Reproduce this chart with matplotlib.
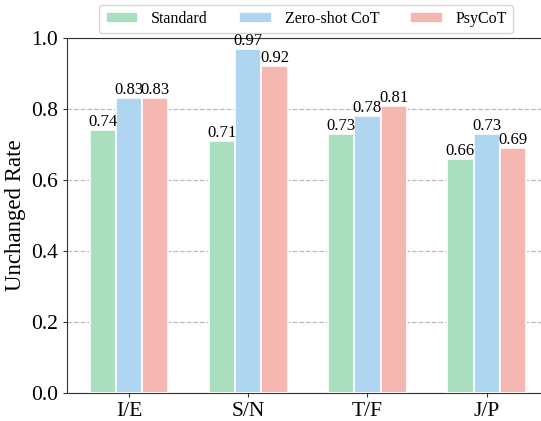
import numpy as np
import matplotlib.pyplot as plt

plt.rcParams['font.family'] = ['Liberation Serif', 'DejaVu Serif']

dims = ["I/E", "S/N", "T/F", "J/P"]
methods = ["Standard", "Zero-shot CoT", "PsyCoT"]
standard = [0.74, 0.71, 0.73, 0.66]
zeroshot = [0.83, 0.97, 0.78, 0.73]
psycot = [0.83, 0.92, 0.81, 0.69]
colors = ["#a9dfbf", "#aed6f1", "#f5b7b1"]

fig = plt.figure(figsize=[5.41, 4.21], dpi=100)
ax = fig.add_axes([0.124, 0.0665, 0.91, 0.843])

x = np.arange(len(dims))
w = 0.22
for k, (vals, name) in enumerate(zip([standard, zeroshot, psycot], methods)):
    pos = x + (k - 1) * w
    bars = ax.bar(pos, vals, width=w, color=colors[k], edgecolor="white",
                  linewidth=1.2, label=name, zorder=3)
    for b, v in zip(bars, vals):
        ax.text(b.get_x() + b.get_width() / 2, v, "%.2f" % v,
                ha="center", va="bottom", fontsize=12, zorder=4)

ax.set_xlim(-0.52, 3.61)
ax.set_ylim(0, 1.0)
ax.set_xticks(x)
ax.set_xticklabels(dims, fontsize=15.5)
ax.set_yticks(np.arange(0, 1.01, 0.2))
ax.set_yticklabels(["%.1f" % t for t in np.arange(0, 1.01, 0.2)], fontsize=15.5)
ax.set_ylabel("Unchanged Rate", fontsize=16.5)
ax.yaxis.grid(True, linestyle="--", color="#bbbbbb", linewidth=0.9, zorder=0)
for s in ax.spines.values():
    s.set_color("#333333")
ax.spines['right'].set_visible(False)
ax.tick_params(axis="both", length=3, color="#333333")

ax.legend(loc="lower center", bbox_to_anchor=(0.486, 1.0), ncol=3, fontsize=11.5,
          handlelength=2.05, handletextpad=0.8, columnspacing=1.95,
          borderpad=0.4, frameon=True, borderaxespad=0.3)

fig.savefig("out.png", dpi=100)
